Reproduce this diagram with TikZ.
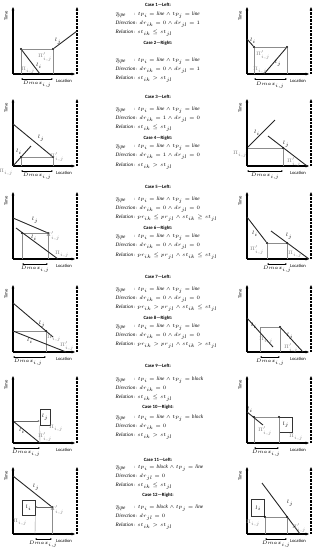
\documentclass[tikz,border=0pt]{standalone}
\usepackage{fontspec}
\setmainfont{Liberation Serif}
\newfontfamily\headfont{Carlito}
\usetikzlibrary{arrows.meta}
\tikzset{
  axesframe/.pic={
    \coordinate (-o) at (0,0);
    \coordinate (-t) at (0,-67);
    \coordinate (-r) at (62,0);
    \coordinate (-db) at (64,0);
    \coordinate (-dt) at (64,-67);
    \draw[axisline,tipbig] (-o) -- (-t);
    \draw[axisline,tipbig] (-o) -- (-r);
    \draw[daxis,tipbig] (-db) -- (-dt);
    \node[axlab,rotate=90] (-time) at (-7,-58) {Time};
    \node[axlab] (-loc) at (51,7) {Location};
  }
}
\begin{document}
\begin{tikzpicture}[x=1pt,y=-1pt,
  axisline/.style={line width=1.1pt,black},
  tipbig/.style={-{Stealth[length=3.4pt,width=2.8pt]}},
  daxis/.style={line width=1.1pt,black,dash pattern=on 2.2pt off 1.3pt},
  seg/.style={line width=0.9pt,black!85},
  guide/.style={line width=0.4pt,black!45},
  garrow/.style={line width=0.4pt,black!60,-{Stealth[length=2pt,width=1.8pt]}},
  dotpt/.style={circle,fill=black,inner sep=0pt,minimum size=2.3pt},
  boxn/.style={draw=black!80,line width=0.6pt,inner sep=0pt,font=\fontsize{4.5}{5}\selectfont},
  glab/.style={text=black!50,font=\fontsize{4}{4.5}\selectfont,inner sep=0.3pt},
  blab/.style={font=\fontsize{4.5}{5}\selectfont,inner sep=0.5pt},
  dlab/.style={font=\fontsize{3.9}{4.5}\selectfont,inner sep=0.3pt},
  axlab/.style={font=\headfont\fontsize{4.6}{5}\selectfont,inner sep=0.5pt},
  dmx/.style={line width=0.4pt,{Stealth[length=2pt,width=1.6pt]}-{Stealth[length=2pt,width=1.6pt]}},
  hd/.style={font=\headfont\bfseries\fontsize{4.8}{5.5}\selectfont,inner sep=0.5pt},
  tx/.style={anchor=west,font=\itshape\fontsize{5.2}{6}\selectfont,inner sep=0.5pt}
]
\useasboundingbox (0,0) rectangle (318,550);

% ================= Row 1 =================
% D1 left
\pic (f1) at (13,74) {axesframe};
\node[dotpt] (a1) at (21,49) {};
\node[dotpt] (b1) at (53,49) {};
\coordinate (a1g) at (21,74); \coordinate (b1g) at (53,74);
\coordinate (a1e) at (40,74); \coordinate (b1e) at (77,31);
\draw[guide] (a1) -- (b1); \draw[guide] (a1) -- (a1g); \draw[guide] (b1) -- (b1g);
\draw[seg] (a1) -- (a1e); \draw[seg] (b1) -- (b1e);
\node[blab] (l1i) at (39,66) {$l_i$};
\node[blab] (l1j) at (58,41) {$l_j$};
\node[glab] (p1a) at (45,57) {$\Pi'_{i,j}$};
\node[glab] (p1b) at (28,70) {$\Pi_{i,j}$};
\coordinate (m1a) at (21,79); \coordinate (m1b) at (53,79);
\draw[dmx] (m1a) -- (m1b);
\node[dlab] (m1) at (37,84) {$Dmax_{i,j}$};

% D1 right
\pic (f2) at (247,74) {axesframe};
\node[dotpt] (a2) at (254,47) {};
\node[dotpt] (b2) at (287,47) {};
\coordinate (a2s) at (247,39); \coordinate (a2g) at (254,74); \coordinate (b2g) at (287,74);
\coordinate (b2s) at (264,74);
\draw[guide] (a2) -- (b2); \draw[guide] (a2) -- (a2g); \draw[guide] (b2) -- (b2g);
\draw[seg] (a2s) -- (a2); \draw[seg] (b2s) -- (b2);
\node[blab] (l2i) at (253,41) {$l_i$};
\node[blab] (l2j) at (278,63) {$l_j$};
\node[glab] (p2a) at (263,55) {$\Pi'_{i,j}$};
\node[glab] (p2b) at (260,70) {$\Pi_{i,j}$};
\coordinate (m2a) at (254,79); \coordinate (m2b) at (287,79);
\draw[dmx] (m2a) -- (m2b);
\node[dlab] (m2) at (270,85) {$Dmax_{i,j}$};

% ================= Row 2 =================
% D2 left
\pic (f3) at (13,166) {axesframe};
\node[dotpt] (a3) at (21,157) {};
\node[dotpt] (b3) at (53,157) {};
\coordinate (a3s) at (13,166); \coordinate (a3e) at (31,146);
\coordinate (b3s) at (13,124);
\coordinate (a3g) at (21,166); \coordinate (b3g) at (53,166);
\draw[guide] (a3) -- (b3); \draw[guide] (a3) -- (a3g); \draw[guide] (b3) -- (b3g);
\draw[seg] (a3s) -- (a3e); \draw[seg] (b3s) -- (b3);
\node[blab] (l3i) at (19,152) {$l_i$};
\node[blab] (l3j) at (41,138) {$l_j$};
\node[glab] (p3a) at (57,157) {$\Pi'_{i,j}$};
\node[glab] (p3b) at (6,172) {$\Pi_{i,j}$};
\coordinate (m3a) at (21,171); \coordinate (m3b) at (53,171);
\draw[dmx] (m3a) -- (m3b);
\node[dlab] (m3) at (37,176) {$Dmax_{i,j}$};

% D2 right
\pic (f4) at (247,166) {axesframe};
\node[dotpt] (a4) at (247,148) {};
\node[dotpt] (b4) at (283,148) {};
\coordinate (a4e) at (275,120);
\coordinate (b4s) at (268,136); \coordinate (b4e) at (307,166);
\coordinate (b4g) at (283,166);
\draw[guide] (a4) -- (b4); \draw[guide] (b4) -- (b4g);
\draw[seg] (a4) -- (a4e); \draw[seg] (b4s) -- (b4e);
\node[blab] (l4i) at (257,133) {$l_i$};
\node[blab] (l4j) at (286,144) {$l_j$};
\node[glab] (p4a) at (240,154) {$\Pi_{i,j}$};
\node[glab] (p4b) at (294,162) {$\Pi'_{i,j}$};
\coordinate (m4a) at (247,171); \coordinate (m4b) at (283,171);
\draw[dmx] (m4a) -- (m4b);
\node[dlab] (m4) at (265,176) {$Dmax_{i,j}$};

% ================= Row 3 =================
% D3 left
\pic (f5) at (13,259) {axesframe};
\node[dotpt] (a5) at (22,233) {};
\node[dotpt] (b5) at (48,233) {};
\coordinate (a5s) at (16,228); \coordinate (a5e) at (58,259);
\coordinate (b5s) at (13,218);
\coordinate (a5g) at (22,259); \coordinate (b5g) at (48,259);
\draw[guide] (a5) -- (b5); \draw[guide] (a5) -- (a5g); \draw[guide] (b5) -- (b5g);
\draw[seg] (a5s) -- (a5e); \draw[seg] (b5s) -- (b5);
\node[blab] (l5i) at (34,238) {$l_i$};
\node[blab] (l5j) at (35,220) {$l_j$};
\node[glab] (p5a) at (53,236) {$\Pi'_{i,j}$};
\node[glab] (p5b) at (62,254) {$\Pi_{i,j}$};
\coordinate (m5a) at (22,264); \coordinate (m5b) at (48,264);
\draw[dmx] (m5a) -- (m5b);
\node[dlab] (m5) at (35,269) {$Dmax_{i,j}$};

% D3 right
\pic (f6) at (247,259) {axesframe};
\node[dotpt] (a6) at (267,243) {};
\node[dotpt] (b6) at (287,243) {};
\coordinate (a6s) at (247,217);
\coordinate (b6s) at (271,231); \coordinate (b6e) at (309,259);
\coordinate (a6g) at (267,259); \coordinate (b6g) at (287,259);
\draw[guide] (a6) -- (b6); \draw[guide] (a6) -- (a6g); \draw[guide] (b6) -- (b6g);
\draw[seg] (a6s) -- (a6); \draw[seg] (b6s) -- (b6e);
\node[blab] (l6i) at (255,234) {$l_i$};
\node[blab] (l6j) at (289,236) {$l_j$};
\node[glab] (p6a) at (257,250) {$\Pi'_{i,j}$};
\node[glab] (p6b) at (295,254) {$\Pi_{i,j}$};
\coordinate (m6a) at (267,264); \coordinate (m6b) at (287,264);
\draw[dmx] (m6a) -- (m6b);
\node[dlab] (m6) at (277,269) {$Dmax_{i,j}$};

% ================= Row 4 =================
% D4 left
\pic (f7) at (13,352) {axesframe};
\node[dotpt] (b7) at (46,331) {};
\coordinate (a7s) at (13,331); \coordinate (a7e) at (66,352);
\coordinate (b7s) at (13,303); \coordinate (b7e) at (53,337);
\coordinate (b7g) at (46,352);
\draw[guide] (a7s) -- (b7); \draw[guide] (b7) -- (b7g);
\draw[seg] (a7s) -- (a7e); \draw[seg] (b7s) -- (b7e);
\node[blab] (l7i) at (30,341) {$l_i$};
\node[blab] (l7j) at (42,324) {$l_j$};
\node[glab] (p7a) at (54,338) {$\Pi_{i,j}$};
\node[glab] (p7b) at (67,346) {$\Pi'_{i,j}$};
\coordinate (m7a) at (13,357); \coordinate (m7b) at (46,357);
\draw[dmx] (m7a) -- (m7b);
\node[dlab] (m7) at (28,362) {$Dmax_{i,j}$};

% D4 right
\pic (f8) at (247,352) {axesframe};
\node[dotpt] (b8) at (280,327) {};
\coordinate (a8c) at (260,327);
\coordinate (a8s) at (247,318); \coordinate (a8e) at (273,347);
\coordinate (b8e) at (303,352);
\coordinate (a8g) at (260,352); \coordinate (b8g) at (280,352);
\draw[guide] (a8c) -- (b8); \draw[guide] (a8c) -- (a8g); \draw[guide] (b8) -- (b8g);
\draw[seg] (a8s) -- (a8e); \draw[seg] (b8) -- (b8e);
\node[blab] (l8i) at (254,326) {$l_i$};
\node[blab] (l8j) at (290,336) {$l_j$};
\node[glab] (p8a) at (266,340) {$\Pi_{i,j}$};
\node[glab] (p8b) at (291,348) {$\Pi'_{i,j}$};
\coordinate (m8a) at (260,357); \coordinate (m8b) at (280,357);
\draw[dmx] (m8a) -- (m8b);
\node[dlab] (m8) at (270,362) {$Dmax_{i,j}$};

% ================= Row 5 =================
% D5 left
\pic (f9) at (13,443) {axesframe};
\node[dotpt] (a9) at (13,421) {};
\node[boxn,minimum width=10pt,minimum height=16pt] (bx9) at (45,417) {$l_j$};
\coordinate (a9e) at (40,443);
\coordinate (bx9g) at (40,443);
\draw[garrow] (a9) -- (a9 -| bx9.west);
\draw[guide] (bx9.south west) -- (bx9g);
\draw[seg] (a9) -- (a9e);
\node[blab] (l9i) at (22,431) {$l_i$};
\node[glab] (p9a) at (56,428) {$\Pi_{i,j}$};
\node[glab] (p9b) at (45,437) {$\Pi'_{i,j}$};
\coordinate (m9a) at (13,448); \coordinate (m9b) at (40,448);
\draw[dmx] (m9a) -- (m9b);
\node[dlab] (m9) at (26,453) {$Dmax_{i,j}$};

% D5 right
\pic (f10) at (247,443) {axesframe};
\node[dotpt] (a10) at (254,417) {};
\node[dotpt] (b10) at (279,417) {};
\node[boxn,minimum width=13pt,minimum height=15pt,anchor=north west] (bx10) at (279,417) {$l_j$};
\coordinate (a10s) at (247,412); \coordinate (a10e) at (263,425);
\coordinate (a10g) at (254,443); \coordinate (b10g) at (279,443);
\draw[guide] (a10) -- (b10); \draw[guide] (a10) -- (a10g); \draw[guide] (b10) -- (b10g);
\draw[seg] (a10s) -- (a10e);
\node[blab] (l10i) at (250,410) {$l_i$};
\node[glab] (p10a) at (265,431) {$\Pi'_{i,j}$};
\node[glab] (p10b) at (296,437) {$\Pi_{i,j}$};
\coordinate (m10a) at (254,448); \coordinate (m10b) at (279,448);
\draw[dmx] (m10a) -- (m10b);
\node[dlab] (m10) at (266,453) {$Dmax_{i,j}$};

% ================= Row 6 =================
% D6 left
\pic (f11) at (13,534) {axesframe};
\node[dotpt] (b11) at (52,507) {};
\node[boxn,minimum width=13pt,minimum height=15pt] (bx11) at (28.5,507.5) {$l_i$};
\coordinate (b11s) at (13,476);
\coordinate (bx11g) at (35,534); \coordinate (b11g) at (52,534);
\draw[guide] (bx11.south east) -- (bx11g); \draw[guide] (b11) -- (b11g);
\draw[garrow] (b11) -- (b11 -| bx11.east);
\draw[seg] (b11s) -- (b11);
\node[blab] (l11j) at (36,487) {$l_j$};
\node[glab] (p11a) at (20,522) {$\Pi_{i,j}$};
\node[glab] (p11b) at (57,510) {$\Pi'_{i,j}$};
\coordinate (m11a) at (35,539); \coordinate (m11b) at (52,539);
\draw[dmx] (m11a) -- (m11b);
\node[dlab] (m11) at (43,544) {$Dmax_{i,j}$};

% D6 right
\pic (f12) at (247,534) {axesframe};
\node[boxn,minimum width=13pt,minimum height=17pt,anchor=south east] (bx12) at (265,517) {$l_i$};
\node[dotpt] (a12) at (265,517) {};
\node[dotpt] (b12) at (287,517) {};
\coordinate (b12s) at (262,483); \coordinate (b12e) at (300,534);
\coordinate (a12g) at (265,534); \coordinate (b12g) at (287,534);
\draw[guide] (a12) -- (b12); \draw[guide] (a12) -- (a12g); \draw[guide] (b12) -- (b12g);
\draw[seg] (b12s) -- (b12e);
\node[blab] (l12j) at (290,503) {$l_j$};
\node[glab] (p12a) at (253,523) {$\Pi_{i,j}$};
\node[glab] (p12b) at (299,528) {$\Pi'_{i,j}$};
\coordinate (m12a) at (265,539); \coordinate (m12b) at (287,539);
\draw[dmx] (m12a) -- (m12b);
\node[dlab] (m12) at (276,544) {$Dmax_{i,j}$};

% ================= Centre texts =================
% Case 1
\node[hd] (c1) at (158,5) {Case 1—Left:};
\node[tx] (c1t) at (115,15) {Type};
\node[tx] (c1tv) at (133,15) {$:tp_i = \mathit{line} \wedge tp_j = \mathit{line}$};
\node[tx] (c1d) at (115,24) {Direction$:dr_{ik} = 0 \wedge dr_{jl} = 1$};
\node[tx] (c1r) at (115,33) {Relation$:st_{ik} \leq st_{jl}$};
% Case 2
\node[hd] (c2) at (158,43) {Case 2—Right:};
\node[tx] (c2t) at (115,61) {Type};
\node[tx] (c2tv) at (133,61) {$:tp_i = \mathit{line} \wedge tp_j = \mathit{line}$};
\node[tx] (c2d) at (115,70) {Direction$:dr_{ik} = 0 \wedge dr_{jl} = 1$};
\node[tx] (c2r) at (115,79) {Relation$:st_{ik} > st_{jl}$};
% Case 3
\node[hd] (c3) at (158,97) {Case 3—Left:};
\node[tx] (c3t) at (115,110) {Type};
\node[tx] (c3tv) at (133,110) {$:tp_i = \mathit{line} \wedge tp_j = \mathit{line}$};
\node[tx] (c3d) at (115,119) {Direction$:dr_{ik} = 1 \wedge dr_{jl} = 0$};
\node[tx] (c3r) at (115,128) {Relation$:st_{ik} \leq st_{jl}$};
% Case 4
\node[hd] (c4) at (158,138) {Case 4—Right:};
\node[tx] (c4t) at (115,147) {Type};
\node[tx] (c4tv) at (133,147) {$:tp_i = \mathit{line} \wedge tp_j = \mathit{line}$};
\node[tx] (c4d) at (115,156) {Direction$:dr_{ik} = 1 \wedge dr_{jl} = 0$};
\node[tx] (c4r) at (115,166) {Relation$:st_{ik} > st_{jl}$};
% Case 5
\node[hd] (c5) at (158,187) {Case 5—Left:};
\node[tx] (c5t) at (115,200) {Type};
\node[tx] (c5tv) at (133,200) {$:tp_i = \mathit{line} \wedge tp_j = \mathit{line}$};
\node[tx] (c5d) at (115,209) {Direction$:dr_{ik} = 0 \wedge dr_{jl} = 0$};
\node[tx] (c5r) at (115,218) {Relation$:pr_{ik} \leq pr_{jl} \wedge st_{ik} \geq st_{jl}$};
% Case 6
\node[hd] (c6) at (158,228) {Case 6—Right:};
\node[tx] (c6t) at (115,237) {Type};
\node[tx] (c6tv) at (133,237) {$:tp_i = \mathit{line} \wedge tp_j = \mathit{line}$};
\node[tx] (c6d) at (115,246) {Direction$:dr_{ik} = 0 \wedge dr_{jl} = 0$};
\node[tx] (c6r) at (115,256) {Relation$:pr_{ik} \leq pr_{jl} \wedge st_{ik} \leq st_{jl}$};
% Case 7
\node[hd] (c7) at (158,277) {Case 7—Left:};
\node[tx] (c7t) at (115,290) {Type};
\node[tx] (c7tv) at (133,290) {$:tp_i = \mathit{line} \wedge tp_j = \mathit{line}$};
\node[tx] (c7d) at (115,299) {Direction$:dr_{ik} = 0 \wedge dr_{jl} = 0$};
\node[tx] (c7r) at (115,308) {Relation$:pr_{ik} > pr_{jl} \wedge st_{ik} \leq st_{jl}$};
% Case 8
\node[hd] (c8) at (158,318) {Case 8—Right:};
\node[tx] (c8t) at (115,327) {Type};
\node[tx] (c8tv) at (133,327) {$:tp_i = \mathit{line} \wedge tp_j = \mathit{line}$};
\node[tx] (c8d) at (115,336) {Direction$:dr_{ik} = 0 \wedge dr_{jl} = 0$};
\node[tx] (c8r) at (115,345) {Relation$:pr_{ik} > pr_{jl} \wedge st_{ik} > st_{jl}$};
% Case 9
\node[hd] (c9) at (158,366) {Case 9—Left:};
\node[tx] (c9t) at (115,380) {Type};
\node[tx] (c9tv) at (133,380) {$:tp_i = \mathit{line} \wedge tp_j = \mathit{block}$};
\node[tx] (c9d) at (115,389) {Direction$:dr_{ik} = 0$};
\node[tx] (c9r) at (115,398) {Relation$:st_{ik} \leq st_{jl}$};
% Case 10
\node[hd] (c10) at (158,407) {Case 10—Right:};
\node[tx] (c10t) at (115,418) {Type};
\node[tx] (c10tv) at (133,418) {$:tp_i = \mathit{line} \wedge tp_j = \mathit{block}$};
\node[tx] (c10d) at (115,427) {Direction$:dr_{ik} = 0$};
\node[tx] (c10r) at (115,436) {Relation$:st_{ik} > st_{jl}$};
% Case 11
\node[hd] (c11) at (158,460) {Case 11—Left:};
\node[tx] (c11t) at (115,468) {Type};
\node[tx] (c11tv) at (133,468) {$:tp_i = \mathit{block} \wedge tp_j = \mathit{line}$};
\node[tx] (c11d) at (115,477) {Direction$:dr_{jl} = 0$};
\node[tx] (c11r) at (115,486) {Relation$:st_{ik} \leq st_{jl}$};
% Case 12
\node[hd] (c12) at (158,495) {Case 12—Right:};
\node[tx] (c12t) at (115,508) {Type};
\node[tx] (c12tv) at (133,508) {$:tp_i = \mathit{block} \wedge tp_j = \mathit{line}$};
\node[tx] (c12d) at (115,517) {Direction$:dr_{jl} = 0$};
\node[tx] (c12r) at (115,526) {Relation$:st_{ik} > st_{jl}$};
\end{tikzpicture}
\end{document}
